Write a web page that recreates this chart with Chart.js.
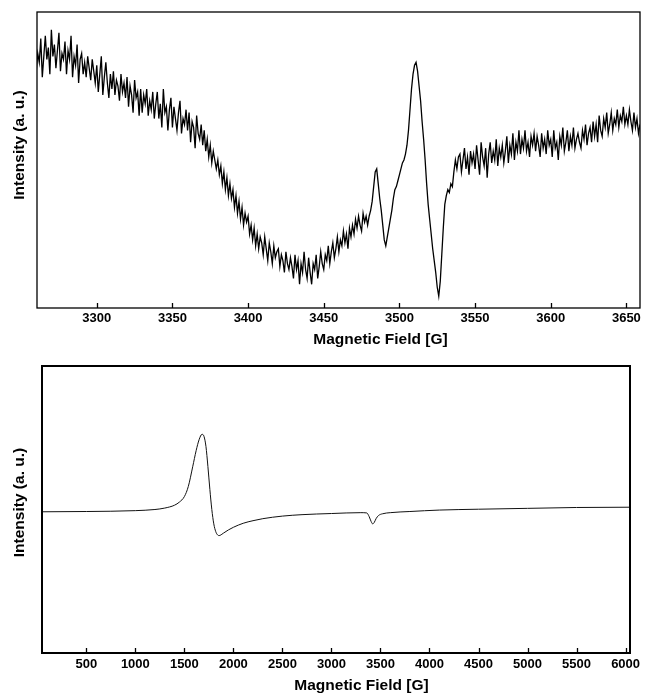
<!DOCTYPE html>
<html>
<head>
<meta charset="utf-8">
<script src="https://cdn.jsdelivr.net/npm/chart.js@4"></script>
<style>
  html, body { margin: 0; padding: 0; background: #fff; }
  #wrap { position: relative; width: 645px; height: 694px; }
  #topChart { position: absolute; left: 0; top: 0; }
  #bottomChart { position: absolute; left: 0; top: 352px; }
</style>
</head>
<body>
<div id="wrap">
  <canvas id="topChart" width="645" height="352"></canvas>
  <canvas id="bottomChart" width="645" height="342"></canvas>
</div>
<script>
// ---- Narrow sweep around g = 2 (field in gauss, intensity in arbitrary units) ----
const narrowStart = 3260;   // first field point of the sweep
const narrowStep = 1;       // field spacing between points
const narrowIntensity = [
  80, 86, 83, 91, 78, 85, 92, 84, 88, 79,   // 3260
  94, 85, 89, 81, 87, 93, 80, 86, 84, 90,   // 3270
  79, 87, 84, 92, 78, 85, 82, 89, 76, 84,   // 3280
  86, 79, 83, 78, 85, 81, 77, 84, 80, 76,   // 3290
  82, 73, 79, 85, 72, 78, 83, 76, 71, 79,   // 3300
  74, 80, 72, 77, 75, 70, 79, 73, 76, 71,   // 3310
  78, 68, 75, 72, 66, 77, 71, 73, 65, 74,   // 3320
  66, 72, 69, 74, 65, 70, 67, 73, 64, 69,   // 3330
  73, 64, 69, 61, 74, 66, 68, 60, 67, 71,   // 3340
  61, 68, 64, 60, 66, 70, 59, 64, 62, 67,   // 3350
  60, 66, 56, 63, 61, 54, 65, 59, 57, 62,   // 3360
  55, 60, 53, 57, 51, 55, 49, 53, 50, 47,   // 3370
  50, 45, 48, 42, 46, 40, 44, 38, 42, 37,   // 3380
  40, 34, 38, 32, 36, 30, 34, 28, 32, 29,   // 3390
  31, 25, 28, 23, 27, 21, 25, 20, 24, 22,   // 3400
  18, 24, 20, 16, 22, 19, 15, 21, 17, 19,   // 3410
  20, 14, 18, 16, 12, 19, 15, 13, 17, 14,   // 3420
  10, 18, 13, 16, 8, 15, 12, 19, 13, 10,    // 3430
  17, 12, 8, 15, 13, 18, 10, 14, 19, 15,    // 3440
  13, 18, 16, 21, 15, 19, 22, 17, 20, 24,   // 3450
  19, 23, 21, 26, 22, 25, 20, 27, 24, 28,   // 3460
  25, 30, 27, 31, 28, 26, 32, 29, 31, 28,   // 3470
  31, 33, 36, 41, 46, 47, 42, 37, 33, 28,   // 3480
  23, 21, 24, 27, 30, 33, 37, 40, 41, 43,   // 3490
  45, 47, 49, 50, 52, 55, 60, 67, 74, 79,   // 3500
  82, 83, 80, 75, 70, 63, 57, 50, 42, 35,   // 3510
  30, 25, 20, 16, 12, 7, 4, 9, 18, 27,      // 3520
  35, 38, 40, 39, 42, 41, 46, 50, 47, 51,   // 3530
  52, 46, 50, 54, 47, 51, 45, 53, 49, 52,   // 3540
  47, 55, 50, 45, 56, 51, 48, 54, 44, 52,   // 3550
  56, 49, 53, 50, 57, 48, 54, 51, 55, 49,   // 3560
  53, 58, 49, 55, 52, 59, 50, 56, 53, 60,   // 3570
  52, 57, 54, 60, 53, 56, 51, 58, 55, 59,   // 3580
  53, 58, 55, 51, 59, 54, 57, 52, 60, 55,   // 3590
  57, 51, 60, 54, 56, 50, 58, 55, 61, 53,   // 3600
  56, 60, 53, 58, 55, 61, 54, 57, 59, 56,   // 3610
  54, 60, 57, 62, 55, 59, 61, 56, 63, 58,   // 3620
  62, 56, 65, 60, 58, 64, 61, 66, 59, 62,   // 3630
  66, 60, 64, 62, 67, 61, 65, 63, 68, 62,   // 3640
  65, 62, 67, 63, 60, 66, 61, 64, 59, 62    // 3650
];
const narrowTicks = [3300, 3350, 3400, 3450, 3500, 3550, 3600, 3650];

// ---- Wide sweep 0-6000 G ----
const wideField = [50, 500, 1000, 1200, 1300, 1400, 1450, 1500, 1540, 1585, 1620, 1650, 1680,
  1700, 1720, 1740, 1760, 1780, 1800, 1820, 1840, 1855, 1875, 1900, 1950, 2000, 2100, 2200,
  2300, 2500, 2700, 3000, 3300, 3360, 3385, 3405, 3420, 3435, 3455, 3480, 3520, 3600, 3800,
  4100, 4500, 5000, 5500, 6045];
const wideIntensity = [49.2, 49.3, 49.6, 50.0, 50.5, 51.5, 52.6, 54.5, 58.0, 64.9, 70.5, 74.3, 76.2,
  75.5, 72.0, 65.0, 57.0, 50.0, 45.0, 42.3, 41.1, 40.9, 41.2, 41.8, 42.9, 43.8, 45.2, 46.1,
  46.8, 47.7, 48.2, 48.6, 48.9, 48.8, 47.5, 45.8, 45.0, 45.4, 46.8, 47.9, 48.5, 48.9, 49.3,
  49.8, 50.1, 50.4, 50.7, 50.8];
const wideTicks = [500, 1000, 1500, 2000, 2500, 3000, 3500, 4000, 4500, 5000, 5500, 6000];

const axisTitleX = 'Magnetic Field [G]';
const axisTitleY = 'Intensity (a. u.)';
const FONT = '"Liberation Sans", Arial, Helvetica, sans-serif';

// Frame around the plot, inward tick marks and the axis captions
const framePlugin = {
  id: 'frame',
  afterDraw(chart, args, o) {
    const { ctx, chartArea: a, scales } = chart;
    ctx.save();
    ctx.strokeStyle = '#000';
    ctx.lineWidth = o.frameWidth;
    ctx.strokeRect(a.left, a.top, a.right - a.left, a.bottom - a.top);
    const xs = scales.x;
    ctx.lineWidth = 1.3;
    ctx.beginPath();
    xs.ticks.forEach(t => {
      const px = Math.round(xs.getPixelForValue(t.value)) + 0.5;
      ctx.moveTo(px, a.bottom);
      ctx.lineTo(px, a.bottom - o.tickLength);
    });
    ctx.stroke();
    ctx.fillStyle = '#000';
    ctx.textAlign = 'center';
    ctx.textBaseline = 'middle';
    ctx.font = 'bold ' + o.titleSize + 'px ' + FONT;
    ctx.fillText(axisTitleX, (a.left + a.right) / 2 + o.xTitleShift, o.xTitleY);
    ctx.translate(o.yTitleX, (a.top + a.bottom) / 2 + o.yTitleShift);
    ctx.rotate(-Math.PI / 2);
    ctx.fillText(axisTitleY, 0, 0);
    ctx.restore();
  }
};

function makeChart(id, points, xMin, xMax, ticks, look) {
  return new Chart(document.getElementById(id), {
    type: 'line',
    data: {
      datasets: [{
        data: points,
        borderColor: look.lineColor,
        borderWidth: look.lineWidth,
        pointRadius: 0,
        cubicInterpolationMode: look.smooth ? 'monotone' : 'default',
        tension: 0,
        fill: false
      }]
    },
    options: {
      responsive: false,
      animation: false,
      devicePixelRatio: 1,
      layout: { padding: look.padding },
      plugins: {
        legend: { display: false },
        tooltip: { enabled: false },
        frame: look.frame
      },
      scales: {
        x: {
          type: 'linear',
          min: xMin,
          max: xMax,
          afterBuildTicks: s => { s.ticks = ticks.map(v => ({ value: v })); },
          afterFit: s => { s.height = look.xAxisHeight; },
          grid: { display: false, drawTicks: false },
          border: { display: false },
          ticks: {
            color: '#000',
            padding: look.tickPadding,
            maxRotation: 0,
            autoSkip: false,
            font: { family: FONT, size: look.tickSize, weight: 'bold' },
            callback: v => String(v)
          }
        },
        y: {
          type: 'linear',
          min: 0,
          max: 100,
          afterFit: s => { s.width = look.yAxisWidth; },
          grid: { display: false, drawTicks: false },
          border: { display: false },
          ticks: { display: false }
        }
      }
    },
    plugins: [framePlugin]
  });
}

const narrowPoints = narrowIntensity.map((v, i) => ({ x: narrowStart + i * narrowStep, y: v }));
const widePoints = wideField.map((f, i) => ({ x: f, y: wideIntensity[i] }));

makeChart('topChart', narrowPoints, 3260.5, 3659, narrowTicks, {
  lineColor: '#000', lineWidth: 1.3, smooth: false,
  padding: { left: 0, right: 5, top: 12, bottom: 0 },
  xAxisHeight: 44, yAxisWidth: 37, tickPadding: 3, tickSize: 13,
  frame: { frameWidth: 1.3, tickLength: 5, titleSize: 15.5,
           xTitleShift: 42, xTitleY: 340, yTitleX: 20, yTitleShift: -15 }
});

makeChart('bottomChart', widePoints, 48, 6045, wideTicks, {
  lineColor: '#111', lineWidth: 1, smooth: true,
  padding: { left: 0, right: 15, top: 14, bottom: 0 },
  xAxisHeight: 41, yAxisWidth: 42, tickPadding: 4, tickSize: 13,
  frame: { frameWidth: 2, tickLength: 5, titleSize: 15.5,
           xTitleShift: 25.5, xTitleY: 334, yTitleX: 20, yTitleShift: -7 }
});
</script>
</body>
</html>
